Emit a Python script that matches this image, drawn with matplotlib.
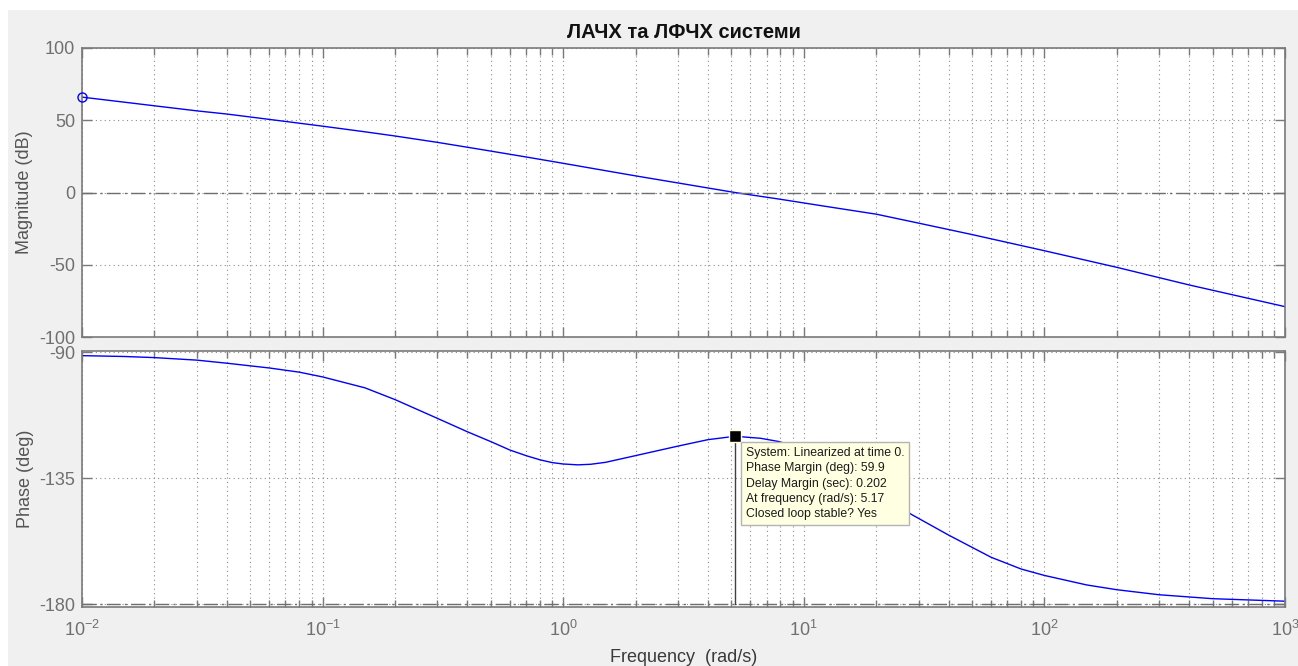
import numpy as np
import matplotlib
matplotlib.use('Agg')
import matplotlib.pyplot as plt
from matplotlib.patches import Rectangle
from matplotlib.ticker import LogLocator, NullFormatter

# magnitude curve
w_mag = [0.01, 0.015, 0.02, 0.03, 0.04, 0.06, 0.1, 0.15, 0.2, 0.3, 0.47, 0.7, 1.0, 1.5, 2.0, 3.0,
         5.17, 8.0, 12.0, 20.0, 30.0, 50.0, 100.0, 200.0, 400.0, 1000.0]
mag_db = [66.0, 62.5, 60.0, 56.5, 54.3, 50.6, 45.9, 42.0, 39.1, 34.7, 29.4, 24.6, 20.2, 15.1, 11.5, 6.6,
          0.0, -4.7, -9.3, -15.0, -21.2, -29.1, -40.3, -51.8, -64.0, -79.0]

# phase curve
w_ph = [0.01, 0.015, 0.02, 0.03, 0.04, 0.06, 0.08, 0.1, 0.15, 0.2, 0.3, 0.4, 0.5, 0.6, 0.7, 0.8, 0.9,
        1.0, 1.15, 1.3, 1.5, 2.0, 3.0, 4.0, 5.17, 6.6, 7.9, 10.0, 14.0, 20.0, 28.0, 40.0, 60.0, 80.0,
        100.0, 150.0, 200.0, 300.0, 500.0, 1000.0]
phase_deg = [-91.3, -91.6, -92.0, -92.9, -94.0, -95.7, -97.2, -98.9, -102.8, -107.0, -113.7, -118.5,
             -122.0, -125.0, -127.0, -128.5, -129.5, -130.0, -130.3, -130.1, -129.4, -127.0, -123.6,
             -121.3, -120.1, -120.8, -122.0, -124.8, -131.0, -139.5, -148.0, -155.4, -163.3, -167.5,
             -169.8, -173.2, -174.9, -176.7, -178.1, -179.0]

# stability margin data tip
wc = 5.17
pm = 59.9
dm = 0.202
tip_lines = ['System: Linearized at time 0.',
             'Phase Margin (deg): {:.1f}'.format(pm),
             'Delay Margin (sec): {:.3f}'.format(dm),
             'At frequency (rad/s): {:.2f}'.format(wc),
             'Closed loop stable? Yes']

mag_ticks = [-100, -50, 0, 50, 100]
ph_ticks = [-180, -135, -90]

title = 'ЛАЧХ та ЛФЧХ системи'

W, H = 1298, 666
fsize = 13
gray_txt = '#707070'
frame = '#7a7a7a'

plt.rcParams['font.family'] = ['Liberation Sans', 'DejaVu Sans']
plt.rcParams['mathtext.fontset'] = 'custom'
plt.rcParams['mathtext.rm'] = 'Liberation Sans'
plt.rcParams['axes.unicode_minus'] = False

fig = plt.figure(figsize=(W/100, H/100), dpi=100, facecolor='white')
fig.patches.append(Rectangle((8/W, 0), (W-8)/W, (H-10)/H, transform=fig.transFigure,
                             facecolor='#F0F0F0', edgecolor='none', zorder=-10))

def px_axes(left, top, right, bottom):
  return fig.add_axes([left/W, (H-bottom)/H, (right-left)/W, (bottom-top)/H])

ax1 = px_axes(82, 48, 1285, 337)
ax2 = px_axes(82, 351, 1285, 607)

for ax in (ax1, ax2):
  ax.set_xscale('log')
  ax.set_xlim(1e-2, 1e3)
  ax.xaxis.set_major_locator(LogLocator(base=10, numticks=10))
  ax.xaxis.set_minor_locator(LogLocator(base=10, subs=np.arange(2, 10), numticks=100))
  ax.xaxis.set_minor_formatter(NullFormatter())
  ax.tick_params(which='both', direction='in', top=True, right=True, colors=frame,
                 labelcolor=gray_txt, labelsize=fsize)
  ax.tick_params(which='major', length=7, width=1)
  ax.tick_params(which='minor', length=5, width=1)
  ax.tick_params(axis='y', which='major', pad=5)
  ax.tick_params(axis='x', which='major', pad=9)
  for s in ax.spines.values():
    s.set_color(frame)
    s.set_linewidth(1.2)
  ax.grid(True, which='major', color='#8c8c8c', linestyle=(0, (1, 3)), linewidth=0.8)
  ax.grid(True, which='minor', axis='x', color='#8c8c8c', linestyle=(0, (1, 3)), linewidth=0.8)
  ax.set_axisbelow(True)

# magnitude
ax1.plot(w_mag, mag_db, color='#0000FF', linewidth=1.0)
ax1.plot(w_mag[0], mag_db[0], 'o', markersize=6.5, markerfacecolor='none',
         markeredgecolor='#0000FF', markeredgewidth=1.0, clip_on=False, zorder=5)
ax1.axhline(0, color='#6e6e6e', linewidth=1.0, linestyle=(0, (10, 3, 1.5, 3)))
ax1.set_ylim(-100, 100)
ax1.set_yticks(mag_ticks)
ax1.tick_params(axis='x', labelbottom=False)
ax1.set_ylabel('Magnitude (dB)', fontsize=fsize, color='#555555', labelpad=4)
ax1.set_title(title, fontsize=14.5, fontweight='bold', color='#111111', pad=7)

# phase
ax2.plot(w_ph, phase_deg, color='#0000FF', linewidth=1.0)
ax2.axhline(-180, color='#6e6e6e', linewidth=1.0, linestyle=(0, (10, 3, 1.5, 3)))
ax2.plot([wc, wc], [-180 + pm, -180], color='#404040', linewidth=1.0)
ax2.plot(wc, -180 + pm, 's', markersize=8, markerfacecolor='black',
         markeredgecolor='#FFFFE1', markeredgewidth=1.0, zorder=5)
ax2.set_ylim(-181.07, -89.64)
ax2.set_yticks(ph_ticks)
ax2.set_ylabel('Phase (deg)', fontsize=fsize, color='#555555', labelpad=4)
ax2.set_xlabel('Frequency  (rad/s)', fontsize=fsize, color='#3a3a3a', labelpad=7)

ax2.annotate('\n'.join(tip_lines), xy=(wc, -180 + pm), xycoords='data',
             xytext=(11, -11), textcoords='offset pixels', ha='left', va='top',
             fontsize=8.8, color='#1a1a1a', linespacing=1.35, zorder=6,
             bbox=dict(boxstyle='square,pad=0.4', facecolor='#FFFFE1', edgecolor='#b4b4b4', linewidth=1.0))

fig.savefig('out.png', dpi=100, facecolor=fig.get_facecolor())
plt.close()
